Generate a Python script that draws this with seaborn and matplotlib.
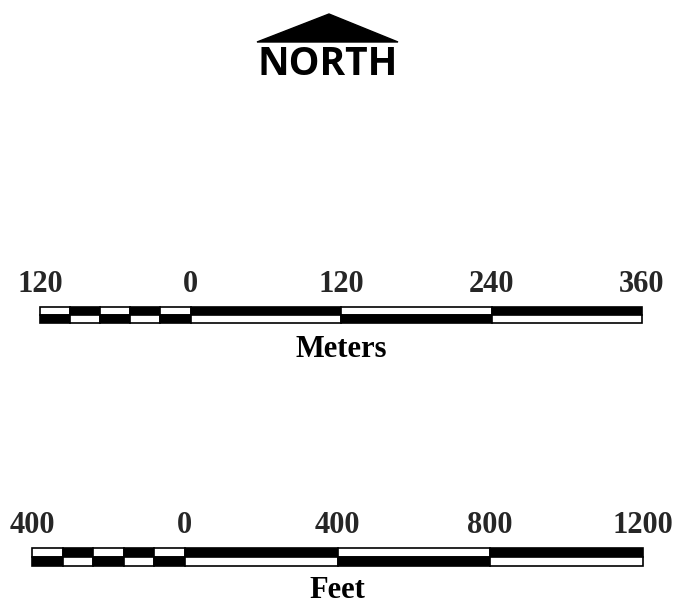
import numpy as np
import matplotlib
matplotlib.use("Agg")
import matplotlib.pyplot as plt
from matplotlib.patches import Polygon
import seaborn as sns

# scale bar data
meter_edges = [-120, -96, -72, -48, -24, 0, 120, 240, 360]
meter_ticks = [-120, 0, 120, 240, 360]
meter_labels = ["120", "0", "120", "240", "360"]

feet_edges = [-400, -320, -240, -160, -80, 0, 400, 800, 1200]
feet_ticks = [-400, 0, 400, 800, 1200]
feet_labels = ["400", "0", "400", "800", "1200"]

sns.set_theme(style="white")
plt.rcParams['font.family'] = ['Liberation Serif', 'DejaVu Serif']

W, H = 673, 615
fig = plt.figure(figsize=(W / 100, H / 100), dpi=100)
fig.patch.set_facecolor("white")

# north arrow, drawn in pixel space
ax0 = fig.add_axes([0, 0, 1, 1])
ax0.set_xlim(0, W)
ax0.set_ylim(H, 0)
ax0.axis("off")
ax0.add_patch(Polygon([(257, 42), (329, 14), (398, 42)], closed=True,
                      facecolor="black", edgecolor="black"))
ax0.text(328, 75, "NORTH", ha="center", va="baseline", fontsize=28,
         fontweight="bold", family=["Open Sans", "DejaVu Sans"], color="black")


def scale_bar(px_left, px_right, px_top, px_bottom, edges, ticks, labels, unit, lpad):
    ax = fig.add_axes([px_left / W, 1 - px_bottom / H,
                       (px_right - px_left) / W, (px_bottom - px_top) / H])
    widths = np.diff(edges)
    n = len(widths)
    top_cols = ["white" if i % 2 == 0 else "black" for i in range(n)]
    bot_cols = ["black" if i % 2 == 0 else "white" for i in range(n)]
    ax.barh(1.5, widths, left=edges[:-1], height=1, color=top_cols,
            edgecolor="black", linewidth=1.2, clip_on=False)
    ax.barh(0.5, widths, left=edges[:-1], height=1, color=bot_cols,
            edgecolor="black", linewidth=1.2, clip_on=False)
    ax.set_xlim(edges[0], edges[-1])
    ax.set_ylim(0, 2)
    ax.set_yticks([])
    ax.set_xticks(ticks)
    ax.set_xticklabels(labels, fontsize=22, fontweight="bold")
    ax.tick_params(axis="x", top=True, labeltop=True, bottom=False,
                   labelbottom=False, length=0, pad=6)
    ax.xaxis.set_label_position("bottom")
    ax.set_xlabel(unit, fontsize=22, fontweight="bold", labelpad=lpad, color="black")
    for s in ax.spines.values():
        s.set_visible(False)
    ax.set_facecolor("none")
    return ax


scale_bar(40, 642, 307, 323, meter_edges, meter_ticks, meter_labels, "Meters", 9)
scale_bar(32, 643, 548, 566, feet_edges, feet_ticks, feet_labels, "Feet", 7)

fig.savefig("out.png", dpi=100, facecolor="white")
